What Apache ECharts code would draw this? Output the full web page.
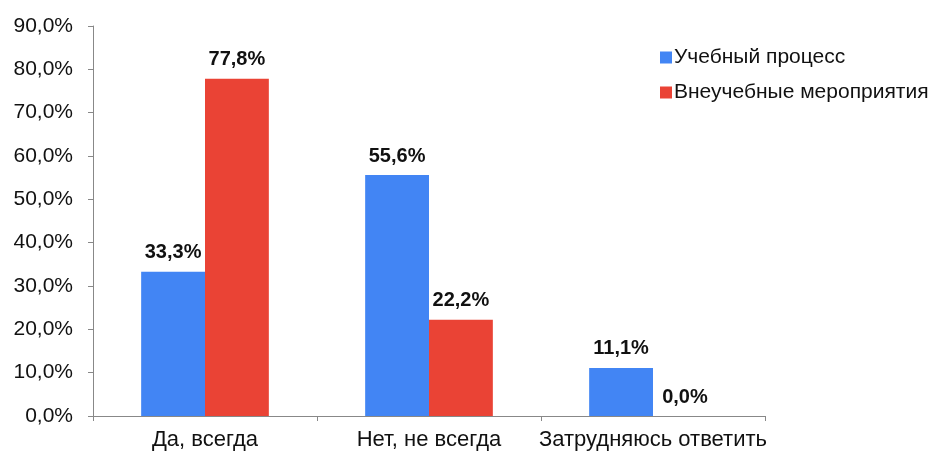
<html>
<head>
<meta charset="UTF-8">
<script src="https://cdn.jsdelivr.net/npm/echarts@6/dist/echarts.min.js"></script>
<style>
html, body { margin: 0; padding: 0; background: #fff; }
#chart { width: 936px; height: 454px; }
</style>
</head>
<body>
<div id="chart"></div>
<script>
var categories = ['Да, всегда', 'Нет, не всегда', 'Затрудняюсь ответить'];
var seriesNames = ['Учебный процесс', 'Внеучебные мероприятия'];
var study = [33.3, 55.6, 11.1];
var extra = [77.8, 22.2, 0.0];

function pct(v) {
    return Number(v).toFixed(1).replace('.', ',') + '%';
}

var myChart = echarts.init(document.getElementById('chart'));

var labelStyle = {
    show: true,
    position: 'top',
    distance: 9,
    fontFamily: 'Liberation Sans',
    fontSize: 20,
    fontWeight: 'bold',
    color: '#111',
    formatter: function (p) { return pct(p.value); }
};

var option = {
    animation: false,
    textStyle: { fontFamily: 'Liberation Sans' },
    grid: { left: 93, right: 171, top: 26, bottom: 38 },
    legend: {
        orient: 'vertical',
        left: 655,
        top: 42,
        itemWidth: 12,
        itemHeight: 12,
        itemGap: 14,
        icon: 'rect',
        textStyle: { fontSize: 21, color: '#111', padding: [0, 0, 0, -3] },
        data: seriesNames
    },
    xAxis: {
        type: 'category',
        data: categories,
        axisLine: { lineStyle: { color: '#888' } },
        axisTick: { show: true, length: 5, lineStyle: { color: '#888' } },
        axisLabel: { fontSize: 22, color: '#111', margin: 13, interval: 0 }
    },
    yAxis: {
        type: 'value',
        min: 0,
        max: 90,
        interval: 10,
        axisLine: { show: true, lineStyle: { color: '#888' } },
        axisTick: { show: true, length: 5, lineStyle: { color: '#888' } },
        splitLine: { show: false },
        axisLabel: { fontSize: 21, color: '#111', margin: 20, formatter: pct }
    },
    series: [
        {
            name: seriesNames[0],
            type: 'bar',
            data: study,
            barGap: '0%',
            barCategoryGap: '43%',
            itemStyle: { color: '#4285F4' },
            label: labelStyle
        },
        {
            name: seriesNames[1],
            type: 'bar',
            data: extra,
            itemStyle: { color: '#EA4335' },
            label: labelStyle
        }
    ]
};

myChart.setOption(option);
</script>
</body>
</html>
